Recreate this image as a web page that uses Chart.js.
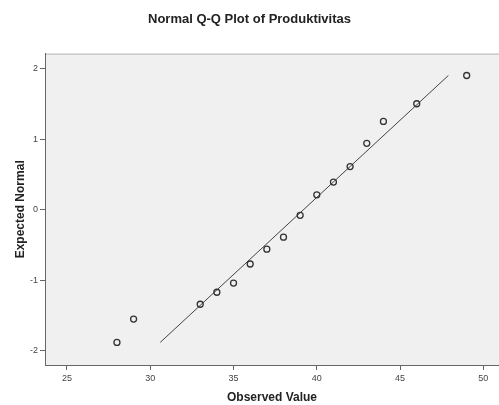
<!DOCTYPE html>
<html>
<head>
<meta charset="utf-8">
<script src="https://cdn.jsdelivr.net/npm/chart.js@4/dist/chart.umd.min.js"></script>
<style>
  html, body { margin: 0; padding: 0; background: #fff; }
  #wrap { width: 499px; height: 405px; }
</style>
</head>
<body>
<div id="wrap"><canvas id="qq" width="499" height="405"></canvas></div>
<script>
// observed values and their expected normal scores
const observed = [28, 29, 33, 34, 35, 36, 37, 38, 39, 40, 41, 42, 43, 44, 46, 49]
const expected = [-1.88, -1.55, -1.34, -1.17, -1.04, -0.77, -0.56, -0.39, -0.08, 0.21, 0.39, 0.61, 0.94, 1.25, 1.50, 1.90]

// reference line ends
const lineX = [30.6, 47.9]
const lineY = [-1.88, 1.90]

const xTicks = [25, 30, 35, 40, 45, 50]
const yTicks = [-2, -1, 0, 1, 2]

const points = observed.map((v, i) => ({ x: v, y: expected[i] }))
const refLine = lineX.map((v, i) => ({ x: v, y: lineY[i] }))

const plotBg = {
  id: 'plotBg',
  beforeDraw (chart) {
    const { ctx, chartArea: a } = chart
    ctx.save()
    ctx.fillStyle = '#f0f0f0'
    ctx.fillRect(a.left, a.top, a.right - a.left, a.bottom - a.top)
    ctx.strokeStyle = '#b4b4b4'
    ctx.lineWidth = 1
    ctx.beginPath()
    ctx.moveTo(a.left, a.top + 0.5)
    ctx.lineTo(a.right, a.top + 0.5)
    ctx.stroke()
    ctx.restore()
  }
}

const font = "'Liberation Sans', Arial, sans-serif"

new Chart(document.getElementById('qq'), {
  type: 'scatter',
  data: {
    datasets: [
      {
        label: 'Observed',
        data: points,
        pointRadius: 3,
        pointBorderWidth: 1.3,
        pointBorderColor: '#333',
        pointBackgroundColor: 'rgba(0,0,0,0)',
        showLine: false
      },
      {
        type: 'line',
        label: 'Reference',
        data: refLine,
        borderColor: '#444',
        borderWidth: 1,
        pointRadius: 0,
        fill: false
      }
    ]
  },
  options: {
    responsive: false,
    animation: false,
    layout: { padding: 0, autoPadding: false },
    plugins: {
      legend: { display: false },
      tooltip: { enabled: false },
      title: {
        display: true,
        text: 'Normal Q-Q Plot of Produktivitas',
        color: '#222',
        font: { family: font, size: 13, weight: 'bold' },
        padding: { top: 12, bottom: 26 }
      }
    },
    scales: {
      x: {
        type: 'linear',
        min: 23.68,
        max: 50.94,
        afterBuildTicks (scale) { scale.ticks = xTicks.map(v => ({ value: v })) },
        afterFit (scale) { scale.height = 40 },
        border: { display: true, color: '#666', width: 1 },
        grid: { display: true, drawOnChartArea: false, drawTicks: true, tickLength: 5, color: '#666' },
        ticks: { color: '#444', font: { family: font, size: 9 }, padding: 3 },
        title: {
          display: true,
          text: 'Observed Value',
          color: '#222',
          font: { family: font, size: 12, weight: 'bold' },
          padding: 0
        }
      },
      y: {
        type: 'linear',
        min: -2.2,
        max: 2.21,
        afterBuildTicks (scale) { scale.ticks = yTicks.map(v => ({ value: v })) },
        afterFit (scale) { scale.width = 45 },
        border: { display: true, color: '#666', width: 1 },
        grid: { display: true, drawOnChartArea: false, drawTicks: true, tickLength: 5, color: '#666' },
        ticks: { color: '#444', font: { family: font, size: 9 }, padding: 2 },
        title: {
          display: true,
          text: 'Expected Normal',
          color: '#222',
          font: { family: font, size: 12, weight: 'bold' },
          padding: { top: 13, bottom: 0 }
        }
      }
    }
  },
  plugins: [plotBg]
})
</script>
</body>
</html>
